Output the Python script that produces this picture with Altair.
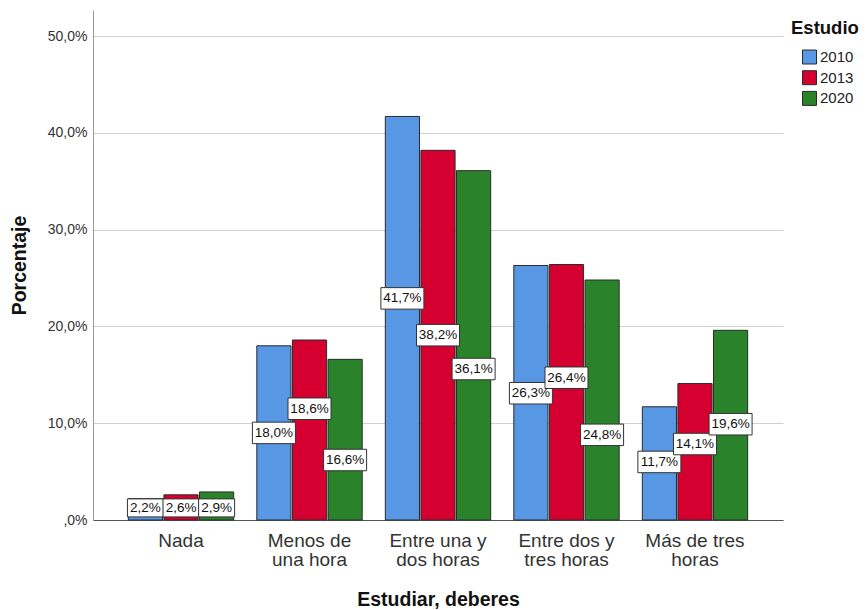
import altair as alt
import pandas as pd
import json

categories = ["Nada", "Menos de una hora", "Entre una y dos horas",
              "Entre dos y tres horas", "Más de tres horas"]
category_lines = [["Nada"], ["Menos de", "una hora"], ["Entre una y", "dos horas"],
                  ["Entre dos y", "tres horas"], ["Más de tres", "horas"]]
years = ["2010", "2013", "2020"]
v2010 = [2.2, 18.0, 41.7, 26.3, 11.7]
v2013 = [2.6, 18.6, 38.2, 26.4, 14.1]
v2020 = [2.9, 16.6, 36.1, 24.8, 19.6]
# where each value label sits (in % on the y scale), as placed in the picture
lab2010 = [1.25, 9.0, 22.9, 13.1, 6.0]
lab2013 = [1.25, 11.5, 19.1, 14.7, 7.85]
lab2020 = [1.25, 6.2, 15.6, 8.8, 9.9]
colors = ["#5897E4", "#D5002F", "#2A832A"]

rows = []
for yr, vals, labs in zip(years, [v2010, v2013, v2020], [lab2010, lab2013, lab2020]):
    for c, v, l in zip(categories, vals, labs):
        rows.append({"cat": c, "year": yr, "value": v / 100, "labpos": l / 100,
                     "txt": f"{v:.1f}".replace(".", ",") + "%"})
df = pd.DataFrame(rows)

lines_map = json.dumps(dict(zip(categories, category_lines)), ensure_ascii=False)

FONT = "Liberation Sans"

xenc = alt.X("cat:N", sort=categories,
             scale=alt.Scale(paddingInner=0.18, paddingOuter=0.275),
             axis=alt.Axis(title="Estudiar, deberes", labelAngle=0,
                           labelExpr=f"{lines_map}[datum.label]",
                           labelFontSize=19, labelColor="#333333", labelFont=FONT,
                           labelPadding=11, labelLineHeight=19,
                           ticks=False, domainColor="#555555",
                           titleFontSize=19.5, titleFont=FONT, titleFontWeight="bold",
                           titleColor="#111111", titlePadding=21))
xoff = alt.XOffset("year:N", sort=years, scale=alt.Scale(paddingInner=0.04, paddingOuter=0))

ylab = "datum.value == 0 ? ',0%' : replace(format(datum.value*100, '.1f'), '.', ',') + '%'"
yscale = alt.Scale(domain=[0, 0.527], nice=False)

bars = alt.Chart(df).mark_bar(stroke="#2a2a2a", strokeWidth=1).encode(
    x=xenc,
    xOffset=xoff,
    y=alt.Y("value:Q", scale=yscale,
            axis=alt.Axis(title="Porcentaje", values=[0, 0.1, 0.2, 0.3, 0.4, 0.5],
                          labelExpr=ylab, labelFontSize=14, labelColor="#333333",
                          labelFont=FONT, labelPadding=6, ticks=False,
                          gridColor="#d0d0d0", domainColor="#999999",
                          titleFontSize=19.5, titleFont=FONT, titleFontWeight="bold",
                          titleColor="#111111", titlePadding=18)),
    color=alt.Color("year:N", sort=years,
                    scale=alt.Scale(domain=years, range=colors),
                    legend=alt.Legend(title="Estudio", orient="none",
                                      legendX=698, legendY=9,
                                      titleFontSize=18.5, titleFont=FONT,
                                      titleFontWeight="bold", titleColor="#111111",
                                      labelFontSize=15, labelFont=FONT,
                                      labelColor="#222222",
                                      symbolType="square", symbolSize=196,
                                      symbolStrokeColor="#2a2a2a", symbolStrokeWidth=1,
                                      symbolOpacity=1, symbolOffset=11, rowPadding=1.7,
                                      padding=0, offset=0, titlePadding=12,
                                      labelOffset=3)),
)

boxes = alt.Chart(df).mark_point(
    shape="M-1,-0.5H1V0.5H-1Z", filled=True, fill="white", stroke="#333333",
    strokeWidth=1, opacity=1
).encode(
    x=alt.X("cat:N", sort=categories),
    xOffset=xoff,
    y=alt.Y("labpos:Q", scale=yscale),
    size=alt.condition("datum.value < 0.1", alt.value(1296), alt.value(1849)),
)

texts = alt.Chart(df).mark_text(
    fontSize=13.5, font=FONT, color="#111111", baseline="middle", align="center"
).encode(
    x=alt.X("cat:N", sort=categories),
    xOffset=xoff,
    y=alt.Y("labpos:Q", scale=yscale),
    text="txt:N",
)

chart = alt.layer(bars, boxes, texts).properties(
    width=690, height=510,
    autosize=alt.AutoSizeParams(type="none"),
    padding={"left": 85, "top": 2, "right": 76, "bottom": 90},
).configure_view(stroke=None).configure_axis(grid=True).configure_axisX(grid=False)

chart.save("out.html", embed_options={"renderer": "svg", "actions": False})
